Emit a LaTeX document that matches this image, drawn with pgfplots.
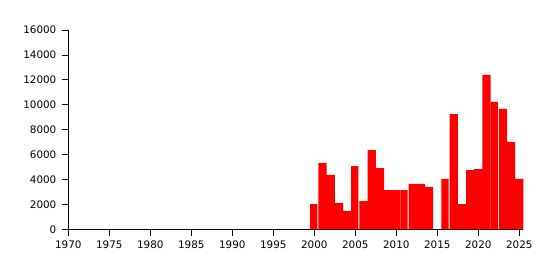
\documentclass[border=0pt]{standalone}
\usepackage{pgfplots}
\pgfplotsset{compat=1.18}
\usepackage{fontspec}
\setmainfont{DejaVu Sans}
\definecolor{barred}{RGB}{255,0,0}
\begin{document}
\begin{tikzpicture}
\path[use as bounding box] (-68.3bp,-40.7bp) rectangle (485.7bp,229.3bp);
\begin{axis}[
  scale only axis,
  width=455.1bp, height=199.3bp,
  xmin=1970, xmax=2025.5,
  ymin=0, ymax=16000,
  axis lines*=left,
  axis line style={black, line width=0.8bp},
  xtick={1970,1975,...,2025},
  ytick={0,2000,...,16000},
  tick align=outside,
  major tick length=6.5bp,
  tick style={black, line width=0.8bp},
  scaled y ticks=false,
  /pgf/number format/1000 sep={},
  /pgf/number format/assume math mode=true,
  ticklabel style={font=\fontsize{10.4}{11}\selectfont},
  xticklabel style={yshift=-1bp},
  yticklabel style={xshift=-2bp},
  clip=false,
]
\addplot[ybar, bar width=1, bar shift=0pt, fill=barred, draw=none] coordinates {
(2001,5320) (2002,4360) (2003,2110) (2004,1470)
(2006,2270) (2007,6360) (2008,4920) (2009,3150) (2010,3150)
(2012,3640) (2013,3640) (2014,3400) (2017,9250)
(2018,2030) (2019,4760) (2020,4840) (2021,12390)
(2023,9660) (2024,7010) (2025,4040)
};
\addplot[ybar, bar width=0.88, bar shift=-0.06, fill=barred, draw=none] coordinates {
(2000,2030) (2005,5080) (2011,3150) (2016,4040) (2022,10220)
};
\end{axis}
\end{tikzpicture}
\end{document}
